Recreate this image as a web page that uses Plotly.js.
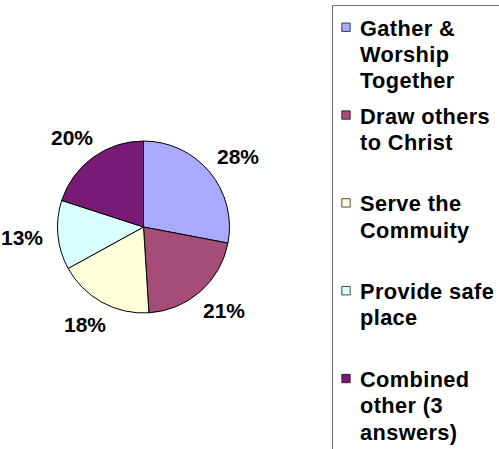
<!DOCTYPE html>
<html>
<head>
<meta charset="utf-8">
<script src="https://cdn.plot.ly/plotly-3.0.1.min.js"></script>
<style>
  html, body { margin: 0; padding: 0; background: #ffffff; }
  #chart { width: 499px; height: 449px; }
  .legend .legendpoints path.legendpie {
    transform: translate(26px, 0px) scale(0.7);
  }
  /* tighter line spacing inside each legend entry (lines are 1.3em apart) */
  .legend text.legendtext { letter-spacing: 0.4px; font-size: 20.2px !important; }
</style>
</head>
<body>
<div id="chart"></div>
<script>
// ---- data ----
const categories = [
  'Gather &<br>Worship<br>Together',
  'Draw others<br>to Christ',
  'Serve the<br>Commuity',
  'Provide safe<br>place',
  'Combined<br>other (3<br>answers)'
];
const shares = [28, 21, 18, 13, 20];

// ---- styling ----
const sliceColors = ['#A9A9FF', '#A64C79', '#FFFFD9', '#D9FFFF', '#7A1A77'];
const W = 499, H = 449;
const cx = 143.5, cy = 227, R = 86;      // pie centre / radius in px
const labelRx = 122, labelRy = 111;      // where the percentage labels sit
const boldFont = 'Liberation Sans, Arial, sans-serif';
const legendFont = 21.75;

// pad every legend entry to the same number of lines so the entries are evenly spaced
const maxLines = Math.max(...categories.map(c => c.split('<br>').length));
const legendText = categories.map(c => {
  const lines = c.split('<br>').map(l => '<span style="font-size:' + legendFont + 'px">' + l + '</span>');
  while (lines.length < maxLines) lines.push('&nbsp;');
  return lines.join('<br>');
});

const trace = {
  type: 'pie',
  labels: legendText,
  values: shares,
  sort: false,
  direction: 'clockwise',
  rotation: 0,
  marker: { colors: sliceColors, line: { color: '#000000', width: 1 } },
  textinfo: 'none',
  hoverinfo: 'percent',
  domain: {
    x: [(cx - R) / W, (cx + R) / W],
    y: [(H - cy - R) / H, (H - cy + R) / H]
  }
};

// percentage labels, placed from the slice mid-angles of the data
const total = shares.reduce((a, b) => a + b, 0);
let cum = 0;
const annotations = shares.map(v => {
  const mid = (cum + v / 2) / total * 2 * Math.PI;
  cum += v;
  const px = cx + labelRx * Math.sin(mid);
  const py = cy - labelRy * Math.cos(mid);
  return {
    xref: 'paper', yref: 'paper',
    x: px / W, y: 1 - py / H,
    xanchor: 'center', yanchor: 'middle',
    showarrow: false,
    text: Math.round(v / total * 100) + '%',
    font: { family: boldFont, size: 21, color: '#000000', weight: 'bold' }
  };
});

const layout = {
  width: W,
  height: H,
  margin: { l: 0, r: 0, t: 0, b: 0, autoexpand: false },
  paper_bgcolor: '#ffffff',
  plot_bgcolor: '#ffffff',
  showlegend: true,
  legend: {
    xref: 'paper', yref: 'paper',
    x: 320 / W, xanchor: 'left',
    y: 1 - 6.6 / H, yanchor: 'top',
    valign: 'top',
    bgcolor: 'rgba(0,0,0,0)',
    borderwidth: 0,
    font: { family: boldFont, size: legendFont, color: '#000000', weight: 'bold' },
    traceorder: 'normal'
  },
  annotations: annotations,
  shapes: [{
    type: 'rect', xref: 'paper', yref: 'paper',
    x0: 332.5 / W, x1: 620 / W,
    y0: 1 - 5.5 / H, y1: -0.3,
    line: { color: '#707070', width: 1 },
    fillcolor: 'rgba(0,0,0,0)'
  }]
};

Plotly.newPlot('chart', [trace], layout, { displayModeBar: false, staticPlot: true });
</script>
</body>
</html>
